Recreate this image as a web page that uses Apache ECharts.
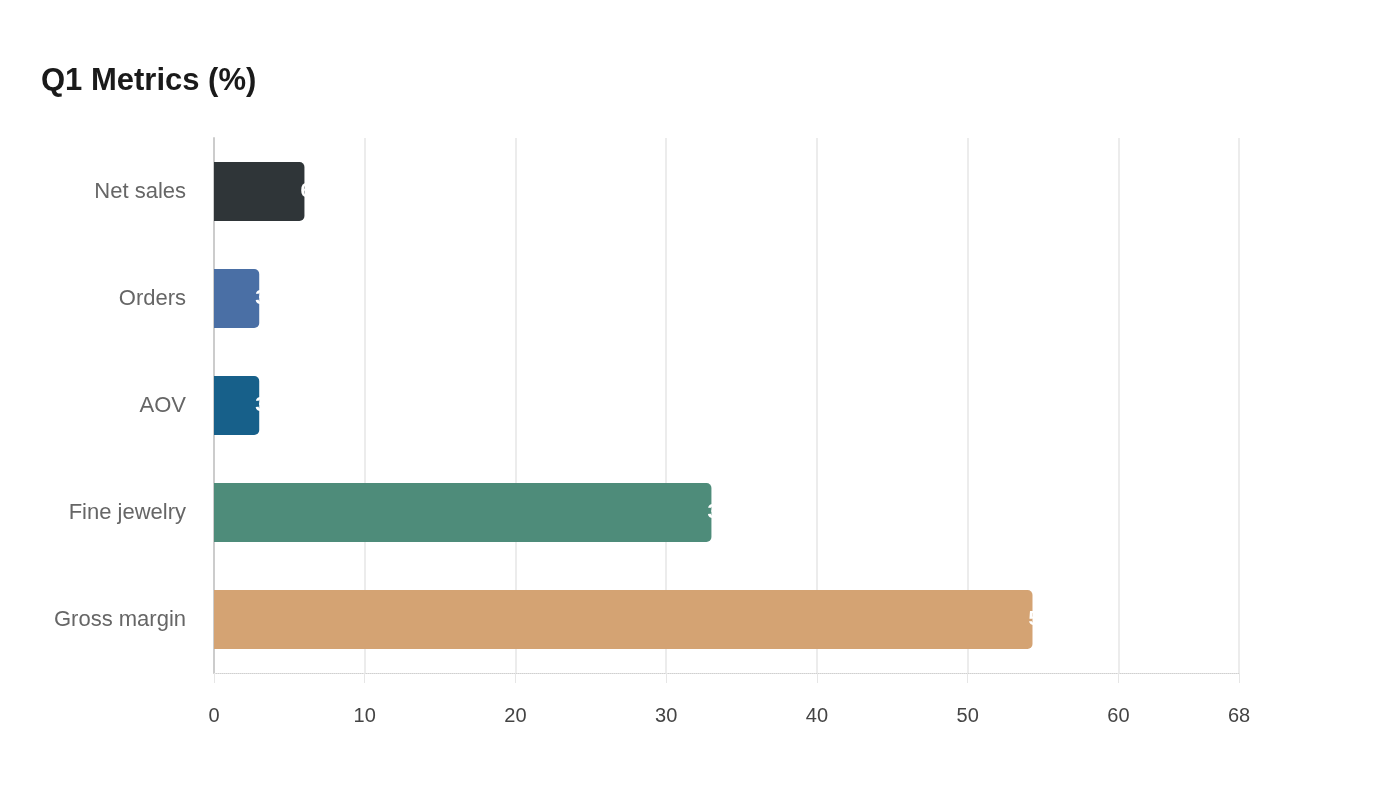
<!DOCTYPE html>
<html>
<head>
<meta charset="utf-8">
<script src="https://cdn.jsdelivr.net/npm/echarts@6/dist/echarts.min.js"></script>
<style>html,body{margin:0;padding:0;background:#fff;}#c{width:1400px;height:800px;}</style>
</head>
<body>
<div id="c"></div>
<script>
const categories = ['Net sales', 'Orders', 'AOV', 'Fine jewelry', 'Gross margin'];
const values = [6, 3, 3, 33, 54.3];
const colors = ['#2f3538', '#4a6fa5', '#17608a', '#4e8c7a', '#d4a373'];
const xTicks = [0, 10, 20, 30, 40, 50, 60, 68];

const chart = echarts.init(document.getElementById('c'));
chart.setOption({
  backgroundColor: '#fff',
  animation: false,
  title: {
    text: 'Q1 Metrics (%)',
    left: 36, top: 61,
    textStyle: { fontFamily: 'Arial, Liberation Sans', fontSize: 31, fontWeight: 'bold', color: '#1a1a1a' }
  },
  grid: { left: 214, right: 161, top: 138, bottom: 127 },
  xAxis: {
    type: 'value', min: 0, max: 68, interval: 10,
    axisLine: { show: true, lineStyle: { color: '#d0d0d0', type: 'dotted', width: 1 } },
    axisTick: { show: true, length: 10, lineStyle: { color: '#e6e6e6' } },
    splitLine: { show: true, lineStyle: { color: '#e6e6e6', width: 1.5 } },
    axisLabel: {
      fontFamily: 'Arial, Liberation Sans', fontSize: 20, color: '#444', margin: 33,
      showMaxLabel: true,
      formatter: v => String(Math.round(v))
    }
  },
  yAxis: {
    type: 'category', data: categories, inverse: true,
    axisLine: { show: true, lineStyle: { color: '#cccccc', width: 2 } },
    axisTick: { show: false },
    axisLabel: { fontFamily: 'Arial, Liberation Sans', fontSize: 22, color: '#666', margin: 28, padding: [10, 0, 0, 0] }
  },
  series: [{
    type: 'bar',
    barWidth: 59,
    data: values.map((v, i) => ({ value: v, itemStyle: { color: colors[i], borderRadius: [0, 5, 5, 0] } })),
    label: {
      show: true, position: 'right', distance: -4,
      color: '#fff', fontFamily: 'Arial, Liberation Sans', fontSize: 20, fontWeight: 'bold',
      formatter: p => String(Math.round(p.value))
    }
  }]
});
</script>
</body>
</html>
